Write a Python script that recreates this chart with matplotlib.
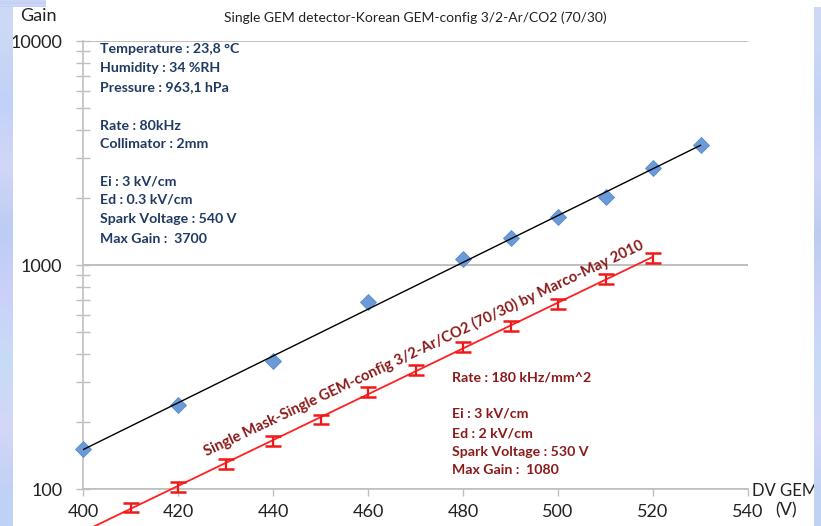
import numpy as np
import matplotlib
matplotlib.use("Agg")
import matplotlib.pyplot as plt
from matplotlib.ticker import FixedLocator, NullFormatter, LogLocator

# --- data -------------------------------------------------------------
korean_voltage = [400, 420, 440, 460, 480, 490, 500, 510, 520, 530]
korean_gain = [151, 237, 373, 684, 1065, 1320, 1637, 2010, 2715, 3430]

mask_voltage = [410, 420, 430, 440, 450, 460, 470, 480, 490, 500, 510, 520]
mask_gain = [83, 102, 129, 164, 205, 271, 340, 430, 535, 670, 866, 1080]
mask_err = [4, 5, 6.5, 8, 10, 13.5, 17, 21, 27, 33, 43, 54]

x_ticks = [400, 420, 440, 460, 480, 500, 520, 540]
y_ticks = [100, 1000, 10000]

title = "Single GEM detector-Korean GEM-config 3/2-Ar/CO2 (70/30)"
korean_notes = ["Temperature : 23,8 °C", "Humidity : 34 %RH", "Pressure : 963,1 hPa",
                "Rate : 80kHz", "Collimator : 2mm",
                "Ei : 3 kV/cm", "Ed : 0.3 kV/cm", "Spark Voltage : 540 V", "Max Gain :  3700"]
mask_notes = ["Rate : 180 kHz/mm^2",
              "Ei : 3 kV/cm", "Ed : 2 kV/cm", "Spark Voltage : 530 V", "Max Gain :  1080"]
mask_label = "Single Mask-Single GEM-config 3/2-Ar/CO2 (70/30) by Marco-May 2010"

# --- figure -----------------------------------------------------------
W, H = 821, 526
plt.rcParams["font.family"] = ["Lato", "DejaVu Sans"]
fig = plt.figure(figsize=(W / 100, H / 100), dpi=100)
fig.patch.set_facecolor("white")


def px(x, y):
    return x / W, 1 - y / H


ax = fig.add_axes([83 / W, (H - 489) / H, 665 / W, 448 / H])
ax.set_yscale("log")
ax.set_xlim(400, 540)
ax.set_ylim(100, 10000)

grid_c = "#BFBFBF"
for s in ["top", "right"]:
    ax.spines[s].set_visible(False)
for s in ["left", "bottom"]:
    ax.spines[s].set_color(grid_c)
    ax.spines[s].set_linewidth(1.2)
ax.set_axisbelow(True)
ax.yaxis.grid(True, which="major", color=grid_c, linewidth=1.4)

ax.xaxis.set_major_locator(FixedLocator(x_ticks))
ax.set_xticklabels([str(v) for v in x_ticks])
ax.yaxis.set_major_locator(FixedLocator(y_ticks))
ax.set_yticklabels([str(v) for v in y_ticks])
ax.yaxis.set_minor_locator(LogLocator(base=10, subs=np.arange(2, 10)))
ax.yaxis.set_minor_formatter(NullFormatter())
ax.tick_params(axis="x", direction="out", length=5, width=1, color=grid_c,
               labelsize=13, pad=6, labelcolor="#222222")
ax.tick_params(axis="y", which="both", direction="inout", length=10, width=1,
               color=grid_c, labelsize=13, pad=10, labelcolor="#222222")

# Korean GEM: measured points and exponential fit
ax.plot(korean_voltage, korean_gain, linestyle="none", marker="D", markersize=8,
        color="#6A9BD8", markeredgecolor="#5B8CCB", markeredgewidth=0.6,
        clip_on=False, zorder=3)
kfit = np.polyfit(korean_voltage, np.log10(korean_gain), 1)
kx = np.array([korean_voltage[0], korean_voltage[-1]], dtype=float)
ax.plot(kx, 10 ** np.polyval(kfit, kx), color="black", linewidth=1.0, zorder=4)

# Single mask GEM: measured points with error bars and exponential fit
mfit = np.polyfit(mask_voltage, np.log10(mask_gain), 1)
mx = np.linspace(400, mask_voltage[-1], 50)
ax.plot(mx, 10 ** np.polyval(mfit, mx), color="#FF2020", linewidth=1.3,
        clip_on=False, zorder=4)
ax.errorbar(mask_voltage, mask_gain, yerr=mask_err, fmt="none", ecolor="#F01818",
            elinewidth=1.6, capsize=6, capthick=1.8, clip_on=False, zorder=5)

# --- texts ------------------------------------------------------------
fig.text(*px(415, 18), title, ha="center", va="center", fontsize=10, color="#222222")
fig.text(*px(38, 16), "Gain", ha="center", va="center", fontsize=13, color="#222222")
fig.text(*px(752, 491), "DV GEM", ha="left", va="center", fontsize=12, color="#222222")
fig.text(*px(786, 510), "(V)", ha="center", va="center", fontsize=13, color="#222222")

navy = "#1F3A62"
for txt, y in zip(korean_notes, [49, 68, 87, 126, 144, 181, 200, 219, 239]):
    fig.text(*px(100, y), txt, ha="left", va="center", fontsize=10.2,
             fontweight="bold", color=navy)

dark_red = "#8B1A1A"
for txt, y in zip(mask_notes, [377, 414, 433, 452, 470]):
    fig.text(*px(452, y), txt, ha="left", va="center", fontsize=10.2,
             fontweight="bold", color=dark_red)

fig.text(*px(424, 348), mask_label, ha="center", va="center", rotation=25.4,
         rotation_mode="anchor", fontsize=10.6, fontweight="bold", color=dark_red)

# --- slide background bands --------------------------------------------
band_cols = np.array([[0.80, 0.85, 0.96], [0.76, 0.82, 0.97], [0.82, 0.84, 0.97],
                      [0.74, 0.80, 0.95], [0.80, 0.82, 0.98], [0.78, 0.86, 0.96],
                      [0.83, 0.84, 0.97], [0.75, 0.82, 0.96]])
band_img = band_cols[:, None, :]
for rect in ([0, 0, 13, H], [0, 0, 45, 7], [814, 7, 7, H - 7]):
    x0, y0, w, h = rect
    bax = fig.add_axes([x0 / W, 1 - (y0 + h) / H, w / W, h / H], zorder=20)
    bax.imshow(band_img, aspect="auto", interpolation="bilinear")
    bax.set_axis_off()

fig.savefig("out.png", dpi=100)
